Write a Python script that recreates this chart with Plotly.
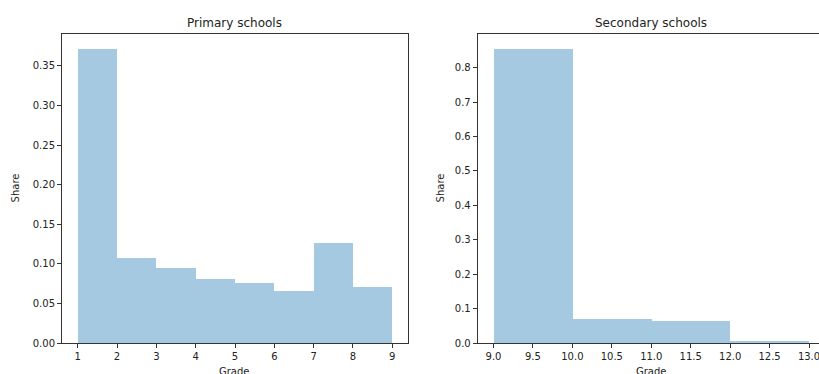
import plotly.graph_objects as go

# Share of pupils per grade (normalised histograms, bin width 1)
primary_edges = [1, 2, 3, 4, 5, 6, 7, 8, 9]
primary_share = [0.372, 0.108, 0.095, 0.082, 0.077, 0.067, 0.127, 0.072]

secondary_edges = [9, 10, 11, 12, 13]
secondary_share = [0.856, 0.071, 0.065, 0.008]

primary_ticks = [1, 2, 3, 4, 5, 6, 7, 8, 9]
primary_yticks = [0.0, 0.05, 0.10, 0.15, 0.20, 0.25, 0.30, 0.35]
secondary_ticks = [9.0, 9.5, 10.0, 10.5, 11.0, 11.5, 12.0, 12.5, 13.0]
secondary_yticks = [0.0, 0.1, 0.2, 0.3, 0.4, 0.5, 0.6, 0.7, 0.8]

W, H = 819, 374
FONT = "DejaVu Sans"
BAR = "rgba(31,119,180,0.4)"
SPINE = "#333333"
TEXT = "#222222"


def centers(edges):
    return [(a + b) / 2 for a, b in zip(edges[:-1], edges[1:])]


def widths(edges):
    return [b - a for a, b in zip(edges[:-1], edges[1:])]


fig = go.Figure()
fig.add_trace(go.Bar(x=centers(primary_edges), y=primary_share,
                     width=widths(primary_edges), marker_color=BAR,
                     marker_line_width=0, xaxis="x", yaxis="y"))
fig.add_trace(go.Bar(x=centers(secondary_edges), y=secondary_share,
                     width=widths(secondary_edges), marker_color=BAR,
                     marker_line_width=0, xaxis="x2", yaxis="y2"))

# axes geometry in pixels
ax_top, ax_bot = 33.5, 343.3
yd = [(H - ax_bot) / H, (H - ax_top) / H]
left_l, left_r = 62.0, 408.0
right_l, right_r = 477.7, 824.8  # right axes run past the figure edge
x1d = [left_l / W, left_r / W]
x2d = [right_l / W, 1.0]

p_lo, p_hi = primary_edges[0], primary_edges[-1]
p_pad = 0.05 * (p_hi - p_lo)
s_lo, s_hi = secondary_edges[0], secondary_edges[-1]
s_pad = 0.05 * (s_hi - s_lo)
# visible part of the right axes keeps the full-axes scale
full_span = (s_hi + s_pad) - (s_lo - s_pad)
s_right = (s_lo - s_pad) + full_span * (W - right_l) / (right_r - right_l)

common_axis = dict(
    showline=True, linecolor=SPINE, linewidth=1,
    ticks="outside", ticklen=4, tickwidth=1, tickcolor=SPINE,
    showgrid=False, zeroline=False, automargin=False,
    ticklabeloverflow="allow",
    tickfont=dict(family=FONT, size=10, color=TEXT),
)

fig.update_layout(
    width=W, height=H,
    margin=dict(l=0, r=0, t=0, b=0),
    paper_bgcolor="white", plot_bgcolor="white",
    showlegend=False, bargap=0,
    xaxis=dict(domain=x1d, anchor="y", range=[p_lo - p_pad, p_hi + p_pad],
               tickvals=primary_ticks, ticktext=[str(v) for v in primary_ticks],
               mirror=True, **common_axis),
    yaxis=dict(domain=yd, anchor="x", range=[0, max(primary_share) * 1.05],
               tickvals=primary_yticks,
               ticktext=[f"{v:.2f}" for v in primary_yticks],
               mirror=True, **common_axis),
    xaxis2=dict(domain=x2d, anchor="y2", range=[s_lo - s_pad, s_right],
                tickvals=secondary_ticks,
                ticktext=[f"{v:.1f}" for v in secondary_ticks],
                mirror=True, **common_axis),
    yaxis2=dict(domain=yd, anchor="x2", range=[0, max(secondary_share) * 1.05],
                tickvals=secondary_yticks,
                ticktext=[f"{v:.1f}" for v in secondary_yticks],
                **common_axis),
)

label_font = dict(family=FONT, size=10, color=TEXT)
title_font = dict(family=FONT, size=12, color=TEXT)
mid_y = (yd[0] + yd[1]) / 2

panels = [
    ("Primary schools", left_l, left_r, 15.0),
    ("Secondary schools", right_l, right_r, 440.0),
]
for title, lpx, rpx, share_x in panels:
    cx = (lpx + rpx) / 2 / W
    fig.add_annotation(text=title, xref="paper", yref="paper",
                       x=cx, y=yd[1], xanchor="center", yanchor="bottom",
                       showarrow=False, yshift=2, font=title_font)
    fig.add_annotation(text="Grade", xref="paper", yref="paper",
                       x=cx, y=(H - 371) / H, xanchor="center",
                       yanchor="middle", showarrow=False, font=label_font)
    fig.add_annotation(text="Share", xref="paper", yref="paper",
                       x=share_x / W, y=mid_y, xanchor="center",
                       yanchor="middle", textangle=-90,
                       showarrow=False, font=label_font)

fig.write_html("out.html")
